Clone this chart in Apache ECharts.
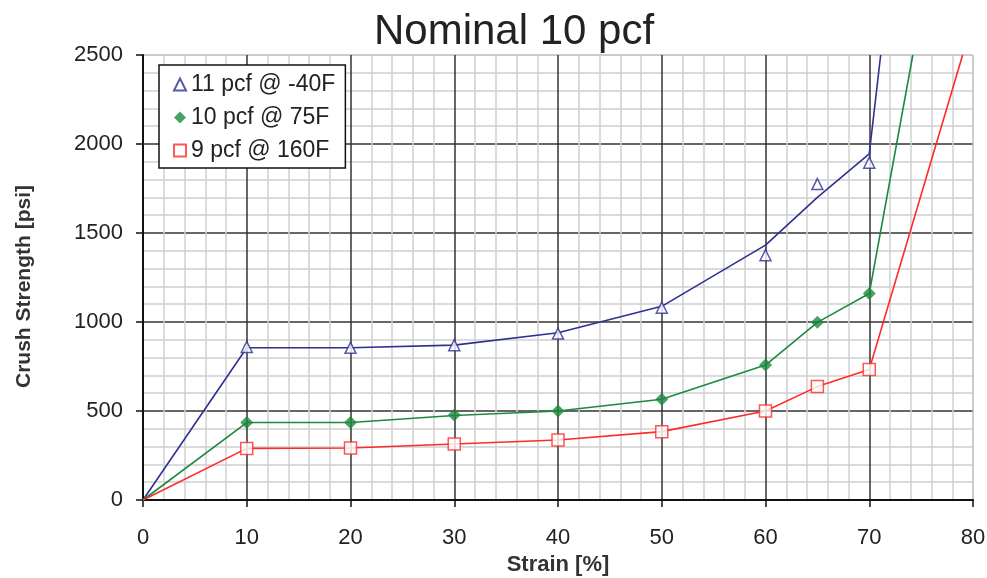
<!DOCTYPE html>
<html>
<head>
<meta charset="utf-8">
<script src="https://cdn.jsdelivr.net/npm/echarts@6/dist/echarts.min.js"></script>
<style>
  html, body { margin: 0; padding: 0; background: #fff; }
  #main { width: 987px; height: 578px; }
</style>
</head>
<body>
<div id="main"></div>
<script>
// measured points (markers)
var strain = [10, 20, 30, 40, 50, 60, 65, 70];
var cold = [860, 855, 870, 935, 1080, 1375, 1775, 1895];   // 11 pcf @ -40F
var room = [435, 435, 478, 500, 566, 758, 998, 1160];     // 10 pcf @ 75F
var hot = [290, 292, 315, 337, 384, 500, 637, 733];       // 9 pcf @ 160F

// fitted curves (x, y)
var coldFitX = [0, 10, 20, 30, 40, 50, 60, 65, 70, 71.1];
var coldFitY = [0, 855, 855, 870, 940, 1088, 1432, 1700, 1945, 2500];
var roomFitX = [0, 10, 20, 30, 40, 50, 60, 65, 70, 74.2];
var roomFitY = [0, 435, 435, 475, 500, 566, 758, 998, 1160, 2500];
var hotFitX = [0, 10, 20, 30, 40, 50, 60, 65, 70, 79];
var hotFitY = [0, 290, 292, 315, 337, 384, 500, 637, 733, 2500];

var names = ['11 pcf @ -40F', '10 pcf @ 75F', '9 pcf @ 160F'];

function pairs(xs, ys) {
  return xs.map(function (x, i) { return [x, ys[i]]; });
}

var chart = echarts.init(document.getElementById('main'));

function fitLine(xs, ys, color) {
  return {
    type: 'line',
    data: pairs(xs, ys),
    showSymbol: false,
    lineStyle: { color: color, width: 1.6 },
    silent: true,
    z: 3
  };
}

var font = 'Liberation Sans';

chart.setOption({
  animation: false,
  title: {
    text: 'Nominal 10 pcf',
    left: 369,
    top: 6,
    textStyle: { fontFamily: font, fontSize: 42, fontWeight: 'normal', color: '#222' }
  },
  legend: {
    data: names,
    orient: 'vertical',
    left: 159,
    top: 65,
    padding: [8, 10, 6, 14],
    itemGap: 10,
    itemWidth: 12,
    itemHeight: 12,
    backgroundColor: '#fff',
    borderColor: '#111',
    borderWidth: 1.5,
    borderRadius: 0,
    textStyle: { fontFamily: font, fontSize: 23, color: '#222' }
  },
  grid: { left: 143, right: 14, top: 55, bottom: 78, outerBoundsMode: 'none' },
  xAxis: {
    type: 'value',
    min: 0, max: 80, interval: 10,
    name: 'Strain [%]',
    nameLocation: 'middle',
    nameGap: 54,
    nameTextStyle: { fontFamily: font, fontSize: 22, fontWeight: 'bold', color: '#333' },
    axisLine: { lineStyle: { color: '#111', width: 2 } },
    axisTick: { show: true, length: 7, lineStyle: { color: '#111', width: 1.5 } },
    axisLabel: { fontFamily: font, fontSize: 22, color: '#222', margin: 27 },
    splitLine: { show: true, lineStyle: { color: ['#333', '#333', '#333', '#333', '#333', '#333', '#333', '#333', '#bbb'], width: 1.5 } },
    minorTick: { show: false, splitNumber: 5 },
    minorSplitLine: { show: true, lineStyle: { color: '#cfcfcf', width: 1.5 } }
  },
  yAxis: {
    type: 'value',
    min: 0, max: 2500, interval: 500,
    name: 'Crush Strength [psi]',
    nameLocation: 'middle',
    nameGap: 108,
    nameTextStyle: { fontFamily: font, fontSize: 21, fontWeight: 'bold', color: '#333', padding: [0, 18, 0, 0] },
    axisLine: { show: true, lineStyle: { color: '#111', width: 2 } },
    axisTick: { show: true, length: 7, lineStyle: { color: '#111', width: 1.5 } },
    axisLabel: { fontFamily: font, fontSize: 22, color: '#222', margin: 20, formatter: function (v) { return String(v); } },
    splitLine: { show: true, lineStyle: { color: ['#333', '#333', '#333', '#333', '#333', '#bbb'], width: 1.5 } },
    minorTick: { show: false, splitNumber: 5 },
    minorSplitLine: { show: true, lineStyle: { color: '#cfcfcf', width: 1.5 } }
  },
  series: [
    fitLine(coldFitX, coldFitY, '#2e3192'),
    fitLine(roomFitX, roomFitY, '#1b8a3e'),
    fitLine(hotFitX, hotFitY, '#ff2a2a'),
    {
      name: names[0],
      type: 'scatter',
      data: pairs(strain, cold),
      symbol: 'triangle',
      symbolSize: 11,
      itemStyle: { color: '#fff', borderColor: '#2e3192', borderWidth: 1.5 },
      z: 5
    },
    {
      name: names[1],
      type: 'scatter',
      data: pairs(strain, room),
      symbol: 'diamond',
      symbolSize: 13,
      itemStyle: { color: '#1b8a3e' },
      z: 5
    },
    {
      name: names[2],
      type: 'scatter',
      data: pairs(strain, hot),
      symbol: 'rect',
      symbolSize: 12,
      itemStyle: { color: '#fff', borderColor: '#ff2a2a', borderWidth: 1.5 },
      z: 5
    }
  ]
});
</script>
</body>
</html>
